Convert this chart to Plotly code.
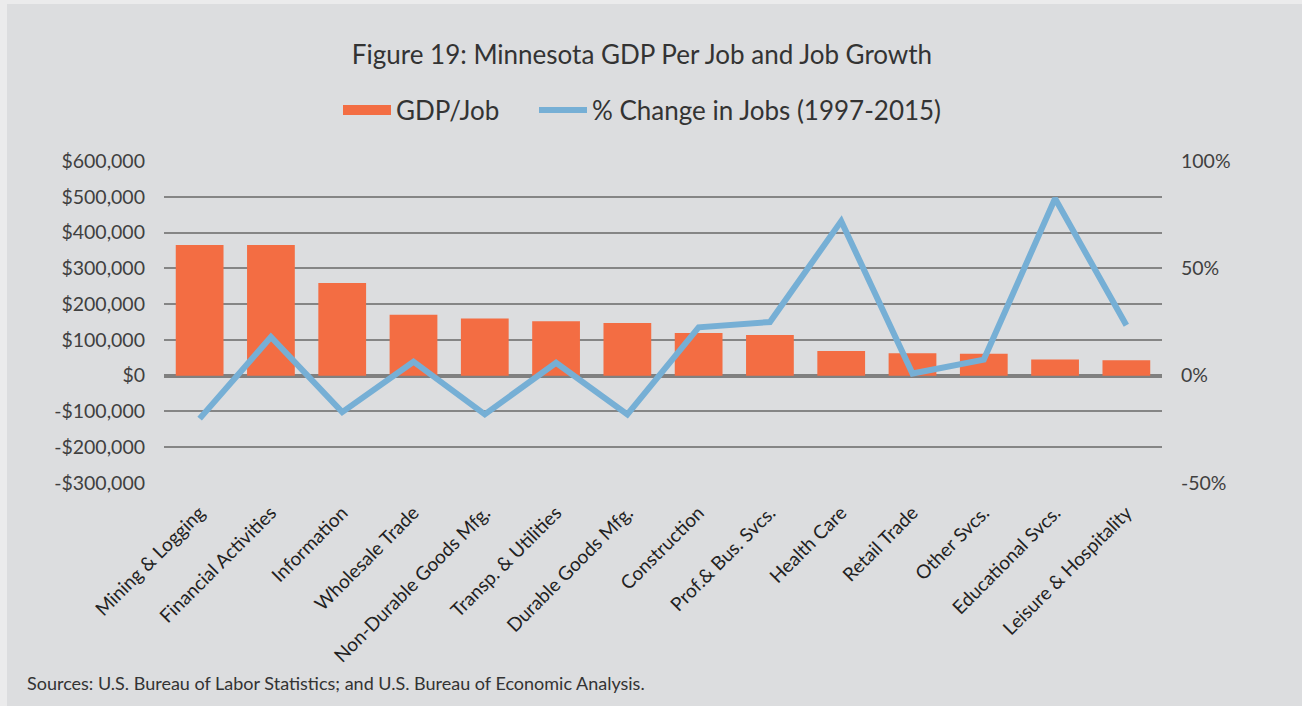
import plotly.graph_objects as go

categories = ["Mining & Logging", "Financial Activities", "Information", "Wholesale Trade",
              "Non-Durable Goods Mfg.", "Transp. & Utilities", "Durable Goods Mfg.", "Construction",
              "Prof.& Bus. Svcs.", "Health Care", "Retail Trade", "Other Svcs.",
              "Educational Svcs.", "Leisure & Hospitality"]
gdp_per_job = [365000, 365000, 259000, 170000, 160000, 152000, 147000, 119000,
               114000, 69000, 63000, 61000, 45000, 43000]
pct_change_jobs = [-0.20, 0.18, -0.17, 0.065, -0.18, 0.06, -0.18, 0.225,
                   0.25, 0.72, 0.01, 0.075, 0.825, 0.235]

left_tickvals = [-300000, -200000, -100000, 0, 100000, 200000, 300000, 400000, 500000, 600000]
left_ticktext = ["-$300,000", "-$200,000", "-$100,000", "$0", "$100,000", "$200,000",
                 "$300,000", "$400,000", "$500,000", "$600,000"]
right_tickvals = [-0.5, 0, 0.5, 1.0]
right_ticktext = ["-50%", "0%", "50%", "100%"]

BAR = "#f36d43"
LINE = "#76afd5"
BG = "#dcdddf"

fig = go.Figure()
fig.add_trace(go.Bar(x=categories, y=gdp_per_job, name="GDP/Job", marker=dict(color=BAR, line=dict(width=0)),
                     yaxis="y", showlegend=False))
# legend entry for the bars, drawn as a wide block like the original
fig.add_trace(go.Scatter(x=[None], y=[None], name="GDP/Job", mode="lines",
                         line=dict(color=BAR, width=14), yaxis="y", showlegend=True, legend="legend"))
fig.add_trace(go.Scatter(x=categories, y=pct_change_jobs, name="% Change in Jobs (1997-2015)",
                         mode="lines", line=dict(color=LINE, width=6), yaxis="y2", legend="legend2"))

W, H = 1302, 706
L, R, T, B = 164, 140, 161, 223
pw, ph = W - L - R, H - T - B

def px_x(x):
    return (x - L) / pw

def px_y(y):
    return (H - B - y) / ph

legend_common = dict(orientation="h", xanchor="left", y=px_y(110), yanchor="middle",
                     font=dict(size=26, color="#333333", family="Lato, sans-serif"),
                     bgcolor="rgba(0,0,0,0)", itemwidth=48)

fig.update_layout(
    width=W, height=H,
    margin=dict(l=L, r=R, t=T, b=B, pad=0),
    paper_bgcolor="#ebebec",
    plot_bgcolor="rgba(0,0,0,0)",
    font=dict(family="Lato, sans-serif", color="#404040"),
    bargap=0.33,
    showlegend=True,
    legend=dict(x=px_x(338), **legend_common),
    legend2=dict(x=px_x(534), **legend_common),
    title=dict(text="Figure 19: Minnesota GDP Per Job and Job Growth", x=642 / W, xanchor="center",
               y=1 - 55 / H, yanchor="middle",
               font=dict(size=26, color="#333333", family="Lato, sans-serif")),
    xaxis=dict(tickangle=-45, showgrid=False, showline=False, ticks="",
               tickfont=dict(size=19, color="#222222", family="Lato, sans-serif"),
               automargin=False, ticklabelstandoff=14),
    yaxis=dict(range=[-300000, 600000], tickvals=left_tickvals, ticktext=left_ticktext,
               showgrid=True, gridcolor="#858585", gridwidth=1.5, zeroline=True,
               zerolinecolor="#808080", zerolinewidth=4, showline=False, ticks="",
               tickfont=dict(size=19.5, color="#404040"), automargin=False, ticklabelstandoff=18),
    yaxis2=dict(range=[-0.5, 1.0], tickvals=right_tickvals, ticktext=right_ticktext,
                overlaying="y", side="right", showgrid=False, zeroline=False, showline=False,
                ticks="", tickfont=dict(size=19.5, color="#404040"), automargin=False,
                ticklabelstandoff=18),
    shapes=[dict(type="rect", xref="paper", yref="paper", layer="below",
                 x0=px_x(7), x1=px_x(W + 5), y0=px_y(H + 5), y1=px_y(4),
                 fillcolor=BG, line=dict(width=0))],
    annotations=[dict(text="Sources: U.S. Bureau of Labor Statistics; and U.S. Bureau of Economic Analysis.",
                      xref="paper", yref="paper", x=px_x(25), y=px_y(683), xanchor="left", yanchor="middle",
                      showarrow=False, font=dict(size=18, color="#333333", family="Lato, sans-serif"))],
)

fig.write_html("out.html", config={"displayModeBar": False},
               post_script="document.body.style.margin='0';document.body.style.padding='0';")
